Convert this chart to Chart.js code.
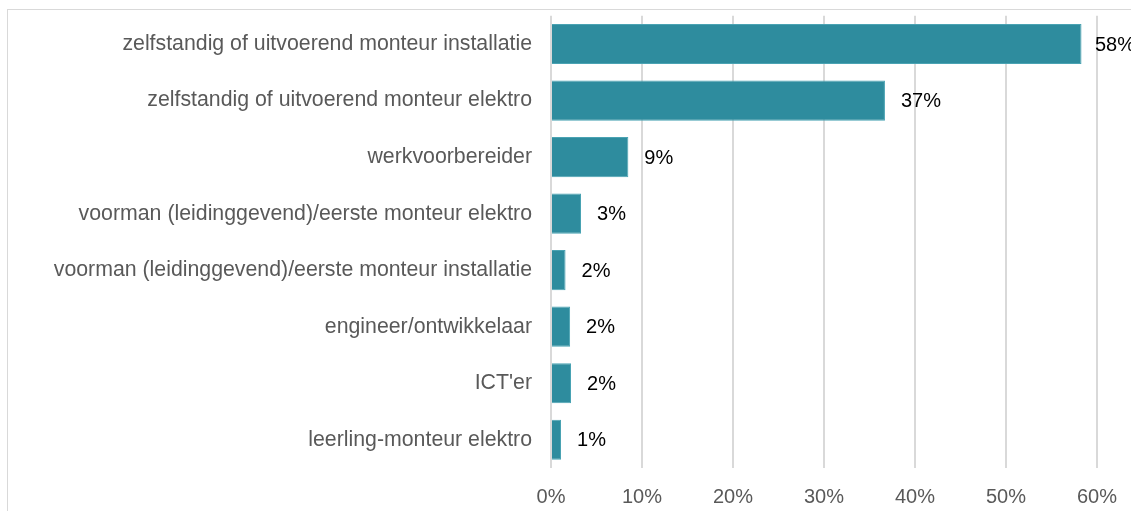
<!DOCTYPE html>
<html>
<head>
<meta charset="utf-8">
<script src="https://cdn.jsdelivr.net/npm/chart.js@4/dist/chart.umd.min.js"></script>
<style>
  html, body { margin: 0; padding: 0; background: #fff; }
  #wrap { position: relative; width: 1131px; height: 511px; overflow: hidden; }
  #frame { position: absolute; left: 7px; top: 9px; right: -10px; bottom: -10px;
           border-left: 1px solid #d9d9d9; border-top: 1px solid #d9d9d9; }
  /* canvas iets groter en omhoog geschoven zodat het plotgebied op y=16..468, x=551..1097 valt */
  canvas { position: absolute; left: 0; top: -8px; }
</style>
</head>
<body>
<div id="wrap">
  <div id="frame"></div>
  <canvas id="chart" width="1134" height="519"></canvas>
</div>
<script>
const categories = [
    'zelfstandig of uitvoerend monteur installatie',
    'zelfstandig of uitvoerend monteur elektro',
    'werkvoorbereider',
    'voorman (leidinggevend)/eerste monteur elektro',
    'voorman (leidinggevend)/eerste monteur installatie',
    'engineer/ontwikkelaar',
    "ICT'er",
    'leerling-monteur elektro'
];
const values = [58.3, 36.7, 8.5, 3.3, 1.6, 2.1, 2.2, 1.1];
const tickValues = [0, 10, 20, 30, 40, 50, 60];

const FONT = '"Liberation Sans", Arial, sans-serif';

// waarde-labels rechts naast de balken
const valueLabels = {
    id: 'valueLabels',
    afterDatasetsDraw(chart) {
        const ctx = chart.ctx;
        const meta = chart.getDatasetMeta(0);
        ctx.save();
        ctx.font = '20px ' + FONT;
        ctx.fillStyle = '#000';
        ctx.textBaseline = 'middle';
        meta.data.forEach((bar, i) => {
            const txt = Math.round(values[i]) + '%';
            let x = bar.x + 16;
            const w = ctx.measureText(txt).width;
            if (x + w > chart.width) x = chart.width - w + 1;
            ctx.fillText(txt, x, bar.y + 1);
        });
        ctx.restore();
    }
};

new Chart(document.getElementById('chart'), {
    type: 'bar',
    data: {
        labels: categories,
        datasets: [{
            data: values,
            backgroundColor: '#2e8c9e',
            borderColor: '#4aa3b3',
            borderWidth: 1,
            barPercentage: 0.71,
            categoryPercentage: 1
        }]
    },
    options: {
        indexAxis: 'y',
        responsive: false,
        animation: false,
        layout: { autoPadding: false, padding: { top: 16, right: 34, bottom: 0, left: 0 } },
        plugins: { legend: { display: false }, tooltip: { enabled: false } },
        scales: {
            x: {
                min: 0,
                max: 60,
                afterBuildTicks: (scale) => { scale.ticks = tickValues.map(v => ({ value: v })); },
                afterFit: (scale) => { scale.height = 43; },
                grid: { color: '#d9d9d9', lineWidth: 2, drawTicks: false },
                border: { display: false },
                ticks: {
                    padding: 17,
                    color: '#595959',
                    font: { size: 20, family: FONT },
                    callback: (v) => v + '%'
                }
            },
            y: {
                afterFit: (scale) => { scale.width = 551; },
                grid: { display: false },
                border: { display: false },
                ticks: {
                    padding: 11,
                    color: '#595959',
                    font: { size: 21.3, family: FONT }
                }
            }
        }
    },
    plugins: [valueLabels]
});
</script>
</body>
</html>
